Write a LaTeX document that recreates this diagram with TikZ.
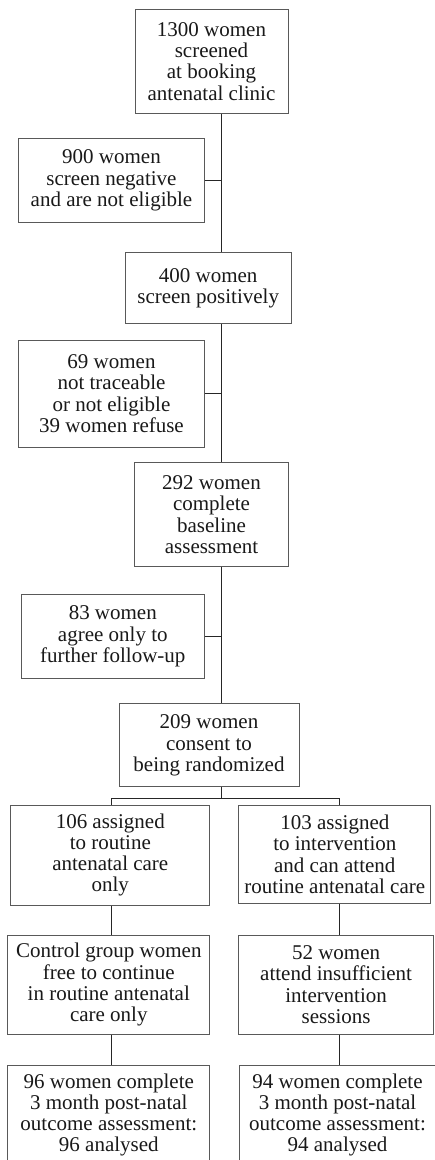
\documentclass[tikz,border=0pt]{standalone}
\usepackage{fontspec}
\setmainfont{Liberation Serif}
\begin{document}
\begin{tikzpicture}[x=1pt,y=-1pt,
  box/.style={draw=black!65,line width=1pt,inner sep=0pt,align=center,
    font=\fontsize{21}{21.3}\selectfont,text=black!90},
  conn/.style={draw=black!85,line width=0.9pt}]
\useasboundingbox (0,0) rectangle (435,1160);
\clip (0,0) rectangle (435,1160);
\fill[white] (0,0) rectangle (435,1160);
\coordinate (sp) at (221.7,0);
\coordinate (L) at (111.7,0);
\coordinate (R) at (339.3,0);
\coordinate (split) at (0,798.3);

\node[box,minimum width=153pt,minimum height=104.3pt] (b1) at (211.5,61.2)
  {1300 women\\screened\\at booking\\antenatal clinic};
\node[box,minimum width=185.6pt,minimum height=84pt] (b2) at (111.5,180.3)
  {900 women\\screen negative\\and are not eligible};
\node[box,minimum width=165.7pt,minimum height=71pt] (b3) at (208.2,288.2)
  {400 women\\screen positively};
\node[box,minimum width=185.6pt,minimum height=107.3pt] (b4) at (111.5,393.7)
  {69 women\\not traceable\\or not eligible\\39 women refuse};
\node[box,minimum width=153.6pt,minimum height=103.6pt] (b5) at (211.5,514.5)
  {292 women\\complete\\baseline\\assessment};
\node[box,minimum width=183pt,minimum height=84pt] (b6) at (112.8,636.3)
  {83 women\\agree only to\\further follow-up};
\node[box,minimum width=180pt,minimum height=82.7pt] (b7) at (209,745.3)
  {209 women\\consent to\\being randomized};
\node[box,minimum width=198.7pt,minimum height=100pt] (b8) at (110.3,855)
  {106 assigned\\to routine\\antenatal care\\only};
\node[box,minimum width=192.3pt,minimum height=98.3pt] (b9) at (334.8,854.2)
  {103 assigned\\to intervention\\and can attend\\routine antenatal care};
\node[box,minimum width=201.7pt,minimum height=98.7pt] (b10) at (108.8,984.7)
  {Control group women\\free to continue\\in routine antenatal\\care only};
\node[box,minimum width=194.8pt,minimum height=98.7pt] (b11) at (336.1,984.7)
  {52 women\\attend insufficient\\intervention\\sessions};
\node[box,minimum width=201.7pt,minimum height=100pt] (b12) at (108.8,1115)
  {96 women complete\\3 month post-natal\\outcome assessment:\\96 analysed};
\node[box,minimum width=197pt,minimum height=100pt] (b13) at (337.5,1115)
  {94 women complete\\3 month post-natal\\outcome assessment:\\94 analysed};

\draw[conn] (b1.south -| sp) -- (b3.north -| sp);
\draw[conn] (b2.east) -- (b2.east -| sp);
\draw[conn] (b3.south -| sp) -- (b5.north -| sp);
\draw[conn] (b4.east) -- (b4.east -| sp);
\draw[conn] (b5.south -| sp) -- (b7.north -| sp);
\draw[conn] (b6.east) -- (b6.east -| sp);
\draw[conn] (b7.south -| sp) -- (sp |- split);
\draw[conn] (b8.north -| L) -- (L |- split) -- (R |- split) -- (b9.north -| R);
\draw[conn] (b8.south -| L) -- (b10.north -| L);
\draw[conn] (b10.south -| L) -- (b12.north -| L);
\draw[conn] (b9.south -| R) -- (b11.north -| R);
\draw[conn] (b11.south -| R) -- (b13.north -| R);
\end{tikzpicture}
\end{document}
